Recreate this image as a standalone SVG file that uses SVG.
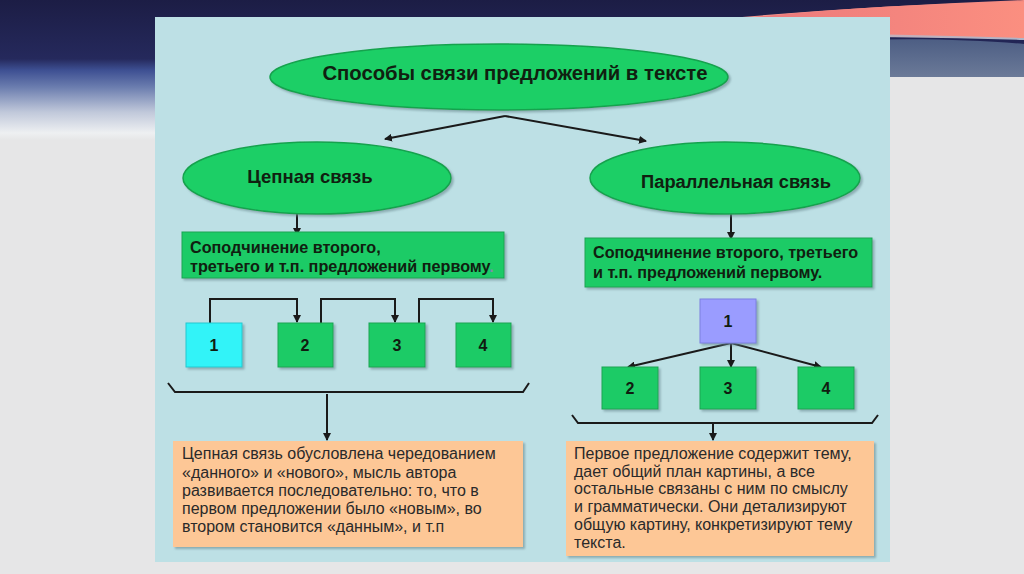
<svg xmlns="http://www.w3.org/2000/svg" width="1024" height="574" viewBox="0 0 1024 574">
<defs>
<linearGradient id="bgTop" x1="0" y1="0" x2="0" y2="1">
<stop offset="0" stop-color="#1c1d45"/>
<stop offset="0.42" stop-color="#25295c"/>
<stop offset="0.5" stop-color="#3d4f92"/>
<stop offset="0.62" stop-color="#6a7cae"/>
<stop offset="0.8" stop-color="#c0c8da"/>
<stop offset="0.95" stop-color="#eef0f2"/>
<stop offset="1" stop-color="#e6e6e7"/>
</linearGradient>
<linearGradient id="pink" x1="0" y1="0" x2="1" y2="0">
<stop offset="0" stop-color="#e7727a"/>
<stop offset="1" stop-color="#fb8f80"/>
</linearGradient>
<linearGradient id="pinkV" x1="0" y1="0" x2="0" y2="1">
<stop offset="0" stop-color="#f58a80"/>
<stop offset="0.7" stop-color="#f2a19a"/>
<stop offset="1" stop-color="#a8b6cc"/>
</linearGradient>
<linearGradient id="slate" x1="0" y1="0" x2="0" y2="1">
<stop offset="0" stop-color="#4d5e84"/>
<stop offset="1" stop-color="#6b7a98"/>
</linearGradient>
<filter id="sh" x="-10%" y="-10%" width="125%" height="130%">
<feDropShadow dx="2" dy="2" stdDeviation="1" flood-color="#6a8a90" flood-opacity="0.6"/>
</filter>
<marker id="ah" markerWidth="8" markerHeight="8" refX="7" refY="4" orient="auto" markerUnits="userSpaceOnUse">
<path d="M0,0 L8,4 L0,8 Z" fill="#1a1a1a"/>
</marker>
<style>
.ell{fill:#1ccf66;stroke:#16a24e;stroke-width:1.5}
.gbox{fill:#1ecb66;stroke:#17a552;stroke-width:1}
.obox{fill:#fdc796}
.ttl{font-family:"Liberation Sans",Arial,sans-serif;font-weight:bold;fill:#102010}
.num{font-family:"Liberation Sans",Arial,sans-serif;font-weight:bold;font-size:16px;fill:#101c10;text-anchor:middle}
.body{font-family:"Liberation Sans",Arial,sans-serif;font-size:16px;fill:#2a2a2a}
.conn{fill:none;stroke:#1a1a1a;stroke-width:2}
</style>
</defs>

<g id="background">
<rect x="0" y="0" width="1024" height="574" fill="#e6e6e7"/>
<rect x="0" y="0" width="1024" height="140" fill="url(#bgTop)"/>
<path d="M600,30 C720,18 860,6 1024,0 L1024,40 C900,36 760,36 600,36 Z" fill="url(#pinkV)"/>
<path d="M660,28 C780,12 900,4 1024,2 L1024,38 C900,34 780,32 660,32 Z" fill="url(#pink)"/>
<path d="M860,40 C920,38 980,40 1024,44 L1024,77 L860,77 Z" fill="url(#slate)"/>
<rect x="860" y="77" width="164" height="63" fill="#e6e6e7"/>
</g>

<rect id="panel" x="155" y="17" width="735" height="545" fill="#bde0e5"/>

<g id="connectors">
<path class="conn" d="M505,116 L385,139" marker-end="url(#ah)"/>
<path class="conn" d="M505,116 L646,141" marker-end="url(#ah)"/>
<path class="conn" d="M297,213 L297,235" marker-end="url(#ah)"/>
<path class="conn" d="M731,213 L731,239" marker-end="url(#ah)"/>
<path class="conn" d="M210,323 L210,299 L297,299 L297,322" marker-end="url(#ah)"/>
<path class="conn" d="M321,323 L321,299 L395,299 L395,322" marker-end="url(#ah)"/>
<path class="conn" d="M419,323 L419,299 L493,299 L493,322" marker-end="url(#ah)"/>
<path class="conn" d="M731,343 L628,367" marker-end="url(#ah)"/>
<path class="conn" d="M731,343 L731,367" marker-end="url(#ah)"/>
<path class="conn" d="M731,343 L821,367" marker-end="url(#ah)"/>
<path class="conn" d="M168,383 L175,392 L523,392 L529,383"/>
<path class="conn" d="M327,394 L327,440" marker-end="url(#ah)"/>
<path class="conn" d="M572,415 L578,423 L872,423 L878,415"/>
<path class="conn" d="M713,423 L713,440" marker-end="url(#ah)"/>
</g>

<g id="n-title">
<ellipse class="ell" cx="499" cy="77" rx="229" ry="33" filter="url(#sh)"/>
<text class="ttl" x="515" y="80" font-size="20.3" text-anchor="middle">Способы связи предложений в тексте</text>
</g>

<g id="n-chain">
<ellipse class="ell" cx="317" cy="178" rx="134" ry="36" filter="url(#sh)"/>
<text class="ttl" x="310" y="183" font-size="18.5" text-anchor="middle">Цепная связь</text>
</g>

<g id="n-parallel">
<ellipse class="ell" cx="725" cy="178" rx="135" ry="36" filter="url(#sh)"/>
<text class="ttl" x="736" y="188" font-size="18.3" text-anchor="middle">Параллельная связь</text>
</g>

<g id="n-chain-desc">
<rect class="gbox" x="182" y="232" width="322" height="46" filter="url(#sh)"/>
<text class="ttl" font-size="16.2" x="190" y="253">Соподчинение второго,</text>
<text class="ttl" font-size="16.2" x="190" y="272">третьего и т.п. предложений первому<tspan fill="#7a8fa8">.</tspan></text>
</g>

<g id="n-parallel-desc">
<rect class="gbox" x="585" y="238" width="287" height="49" filter="url(#sh)"/>
<text class="ttl" font-size="16.2" x="593" y="258">Соподчинение второго, третьего</text>
<text class="ttl" font-size="16.2" x="593" y="278">и т.п. предложений первому.</text>
</g>

<g id="n-c1">
<rect x="186" y="323" width="56" height="44" fill="#31f3f8" stroke="#22c8d0" stroke-width="1" filter="url(#sh)"/>
<text class="num" x="214" y="351">1</text>
</g>
<g id="n-c2">
<rect class="gbox" x="278" y="323" width="55" height="44" filter="url(#sh)"/>
<text class="num" x="305" y="351">2</text>
</g>
<g id="n-c3">
<rect class="gbox" x="369" y="323" width="56" height="44" filter="url(#sh)"/>
<text class="num" x="397" y="351">3</text>
</g>
<g id="n-c4">
<rect class="gbox" x="456" y="323" width="55" height="44" filter="url(#sh)"/>
<text class="num" x="483" y="351">4</text>
</g>

<g id="n-p1">
<rect x="700" y="299" width="56" height="44" fill="#9a9cff" stroke="#7c80e0" stroke-width="1" filter="url(#sh)"/>
<text class="num" x="728" y="327">1</text>
</g>
<g id="n-p2">
<rect class="gbox" x="602" y="367" width="56" height="42" filter="url(#sh)"/>
<text class="num" x="630" y="394">2</text>
</g>
<g id="n-p3">
<rect class="gbox" x="700" y="367" width="56" height="42" filter="url(#sh)"/>
<text class="num" x="728" y="394">3</text>
</g>
<g id="n-p4">
<rect class="gbox" x="798" y="367" width="56" height="42" filter="url(#sh)"/>
<text class="num" x="826" y="394">4</text>
</g>

<g id="n-chain-note">
<rect class="obox" x="173" y="441" width="350" height="106" filter="url(#sh)"/>
<text class="body" x="182" y="459">Цепная связь обусловлена чередованием</text>
<text class="body" x="182" y="478">«данного» и «нового», мысль автора</text>
<text class="body" x="182" y="496">развивается последовательно: то, что в</text>
<text class="body" x="182" y="514">первом предложении было «новым», во</text>
<text class="body" x="182" y="532">втором становится «данным», и т.п</text>
</g>

<g id="n-parallel-note">
<rect class="obox" x="566" y="441" width="308" height="115" filter="url(#sh)"/>
<text class="body" x="574" y="459">Первое предложение содержит тему,</text>
<text class="body" x="574" y="477">дает общий план картины, а все</text>
<text class="body" x="574" y="494">остальные связаны с ним по смыслу</text>
<text class="body" x="574" y="512">и грамматически. Они детализируют</text>
<text class="body" x="574" y="530">общую картину, конкретизируют тему</text>
<text class="body" x="574" y="548">текста.</text>
</g>
</svg>
